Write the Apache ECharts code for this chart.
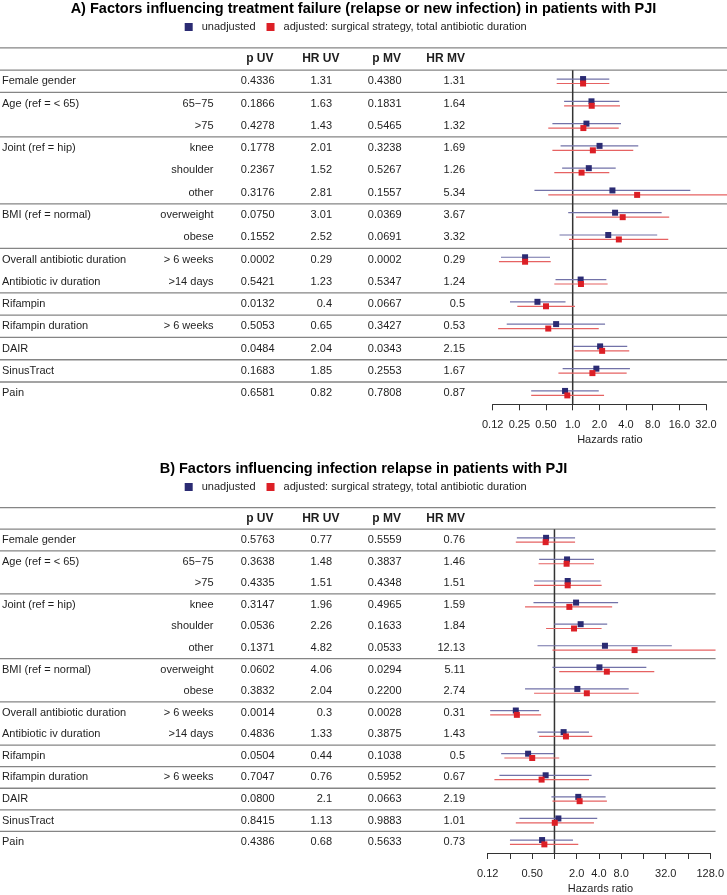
<!DOCTYPE html>
<html><head><meta charset="utf-8">
<script src="https://cdn.jsdelivr.net/npm/echarts@6/dist/echarts.min.js"></script>
<style>html,body{margin:0;padding:0;background:#fff}#c{width:727px;height:895px}</style>
</head><body><div id="c"></div>
<script>
// ---------- data ----------
const titleA = 'A) Factors influencing treatment failure (relapse or new infection) in patients with PJI';
const titleB = 'B) Factors influencing infection relapse in patients with PJI';
const nameUV = 'unadjusted';
const nameMV = 'adjusted: surgical strategy, total antibiotic duration';
const headers = ['p UV', 'HR UV', 'p MV', 'HR MV'];
const rowLabels = ['Female gender', 'Age (ref = < 65)', '', 'Joint (ref = hip)', '', '', 'BMI (ref = normal)', '',
  'Overall antibiotic duration', 'Antibiotic iv duration', 'Rifampin', 'Rifampin duration', 'DAIR', 'SinusTract', 'Pain'];
const rowSubs = ['', '65\u221275', '>75', 'knee', 'shoulder', 'other', 'overweight', 'obese',
  '> 6 weeks', '>14 days', '', '> 6 weeks', '', '', ''];
const tickLabelsA = ['0.12', '0.25', '0.50', '1.0', '2.0', '4.0', '8.0', '16.0', '32.0'];
const tickLabelsB = ['0.12', '', '0.50', '', '2.0', '4.0', '8.0', '', '32.0', '', '128.0'];
const axisName = 'Hazards ratio';

// Panel A
const pUV_A  = [0.4336, 0.1866, 0.4278, 0.1778, 0.2367, 0.3176, 0.0750, 0.1552, 0.0002, 0.5421, 0.0132, 0.5053, 0.0484, 0.1683, 0.6581];
const hrUV_A = [1.31, 1.63, 1.43, 2.01, 1.52, 2.81, 3.01, 2.52, 0.29, 1.23, 0.4, 0.65, 2.04, 1.85, 0.82];
const pMV_A  = [0.4380, 0.1831, 0.5465, 0.3238, 0.5267, 0.1557, 0.0369, 0.0691, 0.0002, 0.5347, 0.0667, 0.3427, 0.0343, 0.2553, 0.7808];
const hrMV_A = [1.31, 1.64, 1.32, 1.69, 1.26, 5.34, 3.67, 3.32, 0.29, 1.24, 0.5, 0.53, 2.15, 1.67, 0.87];
const loUV_A = [0.66, 0.80, 0.59, 0.73, 0.76, 0.37, 0.89, 0.71, 0.155, 0.64, 0.196, 0.18, 1.01, 0.77, 0.34];
const hiUV_A = [2.59, 3.36, 3.51, 5.5, 3.06, 21.3, 10.1, 9.0, 0.555, 2.4, 0.83, 2.32, 4.13, 4.43, 1.97];
const loMV_A = [0.66, 0.80, 0.53, 0.59, 0.62, 0.53, 1.09, 0.91, 0.147, 0.62, 0.237, 0.144, 1.05, 0.69, 0.34];
const hiMV_A = [2.59, 3.42, 3.31, 4.83, 2.59, 60, 12.3, 12.0, 0.565, 2.48, 1.06, 1.97, 4.35, 4.07, 2.26];

// Panel B
const pUV_B  = [0.5763, 0.3638, 0.4335, 0.3147, 0.0536, 0.1371, 0.0602, 0.3832, 0.0014, 0.4836, 0.0504, 0.7047, 0.0800, 0.8415, 0.4386];
const hrUV_B = [0.77, 1.48, 1.51, 1.96, 2.26, 4.82, 4.06, 2.04, 0.3, 1.33, 0.44, 0.76, 2.1, 1.13, 0.68];
const pMV_B  = [0.5559, 0.3837, 0.4348, 0.4965, 0.1633, 0.0533, 0.0294, 0.2200, 0.0028, 0.3875, 0.1038, 0.5952, 0.0663, 0.9883, 0.5633];
const hrMV_B = [0.76, 1.46, 1.51, 1.59, 1.84, 12.13, 5.11, 2.74, 0.31, 1.43, 0.5, 0.67, 2.19, 1.01, 0.73];
const loUV_B = [0.31, 0.62, 0.53, 0.52, 0.99, 0.59, 0.94, 0.40, 0.135, 0.59, 0.19, 0.18, 0.91, 0.335, 0.25];
const hiUV_B = [1.90, 3.42, 4.21, 7.26, 5.17, 38.7, 17.5, 10.1, 0.62, 2.93, 0.99, 3.18, 4.92, 3.79, 1.78];
const loMV_B = [0.30, 0.61, 0.53, 0.40, 0.77, 0.94, 1.16, 0.53, 0.135, 0.62, 0.21, 0.154, 0.94, 0.30, 0.25];
const hiMV_B = [1.90, 3.42, 4.35, 6.03, 4.34, 151, 22.4, 13.8, 0.66, 3.25, 1.16, 2.93, 5.12, 3.42, 2.10];

// group separators (row boundaries)
const sepRows = [-0.5, 0.5, 1.5, 3.5, 6.5, 8.5, 10.5, 11.5, 12.5, 13.5, 14.5];

// ---------- styling ----------
const FONT = '"Liberation Sans", Arial, Helvetica, sans-serif';
const COL_UV = '#2b2b73', COL_MV = '#dc1f26';
const LINE_UV = '#7272a8', LINE_MV = '#e66262';
const TXT = '#1e1e1e';

const chart = echarts.init(document.getElementById('c'), null, {renderer: 'canvas'});
const log2 = Math.log2;

function ciData(lo, hi, hr) {
  return hr.map((h, i) => [log2(lo[i]), log2(hi[i]), log2(h), i + 1]);
}
function ciRender(offset, lineColor, markColor) {
  return function (params, api) {
    const y = api.value(3) + offset;
    const a = api.coord([api.value(0), y]);
    const b = api.coord([api.value(1), y]);
    const m = api.coord([api.value(2), y]);
    return {type: 'group', children: [
      {type: 'line', shape: {x1: a[0], y1: a[1], x2: b[0], y2: b[1]}, style: {stroke: lineColor, lineWidth: 1.2}},
      {type: 'rect', shape: {x: m[0] - 3, y: m[1] - 3, width: 6, height: 6}, style: {fill: markColor}}
    ]};
  };
}
function txt(text, x, y, align, bold) {
  return {type: 'text', x: x, y: y, style: {text: text, textAlign: align, textVerticalAlign: 'middle',
    fontFamily: FONT, fontSize: bold ? 12 : 11, fontWeight: bold ? 'bold' : 'normal', fill: TXT}};
}
function tableRender(pUV, hrUV, pMV, hrMV) {
  return function (params, api) {
    const r = api.value(0);
    const y = api.coord([0, r])[1];
    if (r === 0) {
      return {type: 'group', children: [
        txt(headers[0], 273.5, y, 'right', true), txt(headers[1], 339.5, y, 'right', true),
        txt(headers[2], 401, y, 'right', true), txt(headers[3], 465, y, 'right', true)]};
    }
    const i = r - 1;
    return {type: 'group', children: [
      txt(rowLabels[i], 2, y, 'left'), txt(rowSubs[i], 213.5, y, 'right'),
      txt(pUV[i].toFixed(4), 274.5, y, 'right'), txt(String(hrUV[i]), 332, y, 'right'),
      txt(pMV[i].toFixed(4), 401.5, y, 'right'), txt(String(hrMV[i]), 465, y, 'right')]};
  };
}
function sepRender(rightVal) {
  return function (params, api) {
    const v = api.value(0);
    const p = api.coord([rightVal, v]);
    return {type: 'line', shape: {x1: 0, y1: p[1], x2: p[0], y2: p[1]}, style: {stroke: '#858585', lineWidth: 1.3}};
  };
}
function refRender(params, api) {
  const a = api.coord([api.value(0), api.value(1)]);
  const b = api.coord([api.value(0), api.value(2)]);
  return {type: 'line', shape: {x1: a[0], y1: a[1], x2: b[0], y2: b[1]}, style: {stroke: '#333', lineWidth: 1.5}};
}
const rowsIdx = [0].concat(rowLabels.map((_, i) => i + 1));

function xAxisCfg(grid, min, max, labels, nameShift) {
  return {gridIndex: grid, type: 'value', position: 'bottom', min: min, max: max, interval: 1,
    axisLine: {show: true, onZero: false, lineStyle: {color: '#333', width: 1}},
    axisTick: {show: true, length: 6, lineStyle: {color: '#333'}},
    axisLabel: {margin: 15, fontSize: 11, fontFamily: FONT, color: TXT, formatter: v => labels[Math.round(v - min)]},
    splitLine: {show: false},
    name: axisName, nameLocation: 'middle', nameGap: 30,
    nameTextStyle: {fontSize: 11, fontFamily: FONT, color: TXT, padding: [0, 0, 0, nameShift]}};
}
function legendCfg(top) {
  return {data: [nameUV, nameMV], left: 184.7, top: top, padding: 0, icon: 'rect', itemWidth: 8, itemHeight: 8, itemGap: 11,
    selectedMode: false, textStyle: {fontSize: 11, fontFamily: FONT, color: TXT, padding: [0, 0, 0, 4]}};
}

const option = {
  animation: false,
  backgroundColor: '#fff',
  title: [
    {text: titleA, left: 'center', top: 1.5, padding: 0, textStyle: {fontSize: 14.5, fontWeight: 'bold', fontFamily: FONT, color: '#000'}},
    {text: titleB, left: 'center', top: 461.5, padding: 0, textStyle: {fontSize: 14.5, fontWeight: 'bold', fontFamily: FONT, color: '#000'}}
  ],
  legend: [legendCfg(21.5), legendCfg(481.5)],
  grid: [
    {left: 492.7, right: 727 - 706, top: 59, height: 345.3},
    {left: 487.7, right: 727 - 712.7, top: 518.4, height: 334.9}
  ],
  xAxis: [xAxisCfg(0, -3, 5, tickLabelsA, 21), xAxisCfg(1, -3, 7, tickLabelsB, 3)],
  yAxis: [
    {gridIndex: 0, type: 'value', inverse: true, min: 0, max: 15.5, show: false},
    {gridIndex: 1, type: 'value', inverse: true, min: 0, max: 15.5, show: false}
  ],
  series: [
    {type: 'custom', xAxisIndex: 0, yAxisIndex: 0, clip: false, silent: true, data: sepRows.map(v => [v]), renderItem: sepRender(5.8)},
    {type: 'custom', xAxisIndex: 1, yAxisIndex: 1, clip: false, silent: true, data: sepRows.map(v => [v]), renderItem: sepRender(7.24)},
    {type: 'custom', xAxisIndex: 0, yAxisIndex: 0, clip: false, silent: true, data: [[0, 0.5, 15.5]], renderItem: refRender},
    {type: 'custom', xAxisIndex: 1, yAxisIndex: 1, clip: false, silent: true, data: [[0, 0.5, 15.5]], renderItem: refRender},
    {type: 'custom', xAxisIndex: 0, yAxisIndex: 0, clip: false, silent: true, data: rowsIdx.map(r => [r]), renderItem: tableRender(pUV_A, hrUV_A, pMV_A, hrMV_A)},
    {type: 'custom', xAxisIndex: 1, yAxisIndex: 1, clip: false, silent: true, data: rowsIdx.map(r => [r]), renderItem: tableRender(pUV_B, hrUV_B, pMV_B, hrMV_B)},
    {name: nameUV, type: 'custom', xAxisIndex: 0, yAxisIndex: 0, clip: false, itemStyle: {color: COL_UV},
      data: ciData(loUV_A, hiUV_A, hrUV_A), encode: {x: [0, 1, 2], y: 3}, renderItem: ciRender(-0.1, LINE_UV, COL_UV)},
    {name: nameMV, type: 'custom', xAxisIndex: 0, yAxisIndex: 0, clip: false, itemStyle: {color: COL_MV},
      data: ciData(loMV_A, hiMV_A, hrMV_A), encode: {x: [0, 1, 2], y: 3}, renderItem: ciRender(0.1, LINE_MV, COL_MV)},
    {name: nameUV, type: 'custom', xAxisIndex: 1, yAxisIndex: 1, clip: false, itemStyle: {color: COL_UV},
      data: ciData(loUV_B, hiUV_B, hrUV_B), encode: {x: [0, 1, 2], y: 3}, renderItem: ciRender(-0.1, LINE_UV, COL_UV)},
    {name: nameMV, type: 'custom', xAxisIndex: 1, yAxisIndex: 1, clip: false, itemStyle: {color: COL_MV},
      data: ciData(loMV_B, hiMV_B, hrMV_B), encode: {x: [0, 1, 2], y: 3}, renderItem: ciRender(0.1, LINE_MV, COL_MV)}
  ]
};
chart.setOption(option);
</script></body></html>
